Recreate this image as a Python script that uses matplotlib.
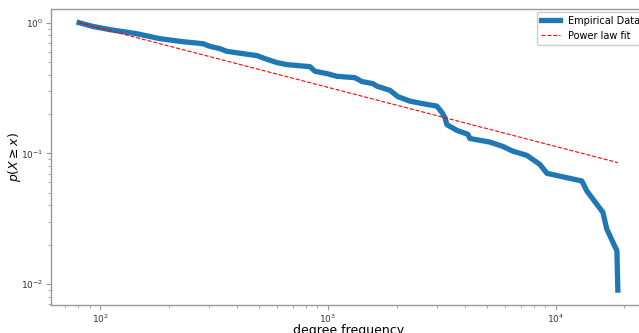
import matplotlib
matplotlib.use("Agg")
import matplotlib.pyplot as plt

# Empirical CCDF
deg_freq = [81, 93, 111, 145, 183, 231, 283, 304, 336, 360, 424, 488, 530, 598,
            661, 834, 877, 990, 1095, 1312, 1409, 1574, 1640, 1870, 2028, 2290,
            2584, 3007, 3162, 3261, 3327, 3680, 4113, 4198, 5140, 5861, 6475,
            7462, 8511, 9140, 13010, 13680, 15130, 16080, 16740, 18530, 18710]
ccdf = [1.0, 0.937, 0.884, 0.824, 0.755, 0.716, 0.691, 0.659, 0.633, 0.604,
        0.580, 0.560, 0.531, 0.495, 0.478, 0.461, 0.425, 0.408, 0.389, 0.380,
        0.355, 0.342, 0.327, 0.304, 0.272, 0.251, 0.241, 0.230, 0.206, 0.188,
        0.166, 0.150, 0.140, 0.130, 0.122, 0.113, 0.104, 0.0966, 0.0824,
        0.0704, 0.0615, 0.0516, 0.0408, 0.0355, 0.0263, 0.0180, 0.0090]

# Power-law fit line endpoints
fit_x = [81, 18710]
fit_y = [1.0, 0.085]

fig = plt.figure(figsize=(6.39, 3.33), dpi=100)
ax = fig.add_axes([51/639, 28/333, 596/639, 296/333])

ax.plot(deg_freq, ccdf, color="#1f77b4", lw=3.8, label="Empirical Data")
ax.plot(fit_x, fit_y, color="red", ls="--", lw=0.8, label="Power law fit")
ax.set_xscale("log")
ax.set_yscale("log")
ax.set_xlim(10**1.785, 10**4.40)
ax.set_ylim(10**-2.16, 10**0.105)

for s in ax.spines.values():
    s.set_color("#999999")
    s.set_linewidth(1.0)
ax.tick_params(which="both", colors="#999999", labelcolor="#333333",
               labelsize=6.5, pad=2)
ax.tick_params(which="major", length=3.5)
ax.tick_params(which="minor", length=2)

ax.set_xlabel("degree frequency", fontsize=9, labelpad=-0.5)
ax.set_ylabel(r"$p(X \geq x)$", fontsize=9)
ax.yaxis.set_label_coords(-0.047, 0.5)

ax.legend(loc="upper right", fontsize=7, framealpha=1, borderaxespad=0.3,
          bbox_to_anchor=(1.0, 1.0))

fig.savefig("out.png", dpi=100)
